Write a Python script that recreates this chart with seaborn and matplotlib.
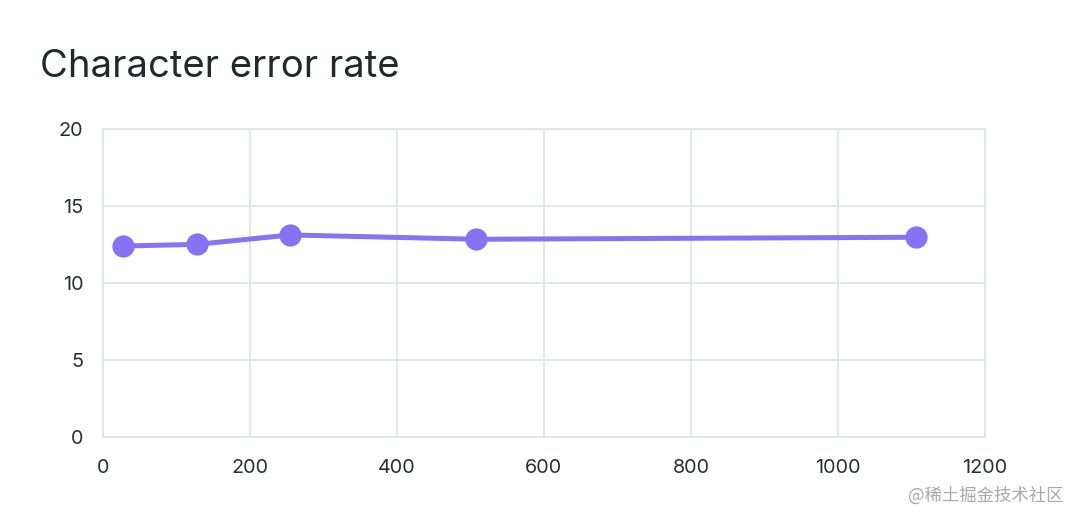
import pandas as pd
import seaborn as sns
import matplotlib
matplotlib.use("Agg")
import matplotlib.pyplot as plt


# values
num_languages = [27, 128, 255, 508, 1106]
cer = [12.4, 12.51, 13.12, 12.84, 12.97]

x_ticks = [0, 200, 400, 600, 800, 1000, 1200]
y_ticks = [0, 5, 10, 15, 20]

df = pd.DataFrame({"languages": num_languages, "cer": cer})

sns.set_theme(style="white")
plt.rcParams['font.family'] = ['Inter', 'Noto Sans CJK SC', 'DejaVu Sans']

fig = plt.figure(figsize=(10.8, 5.22), dpi=100)
ax = fig.add_axes([0.0954, 0.1628, 0.8166, 0.5901])

sns.lineplot(
    data=df,
    x="languages",
    y="cer",
    ax=ax,
    color="#8672f2",
    linewidth=3.6,
    marker="o",
    markersize=16,
    markeredgewidth=0,
)

ax.set_xlim(0, 1200)
ax.set_ylim(0, 20)
ax.set_xticks(x_ticks)
ax.set_yticks(y_ticks)
ax.set_xlabel("")
ax.set_ylabel("")

ax.grid(True, color="#e2e5e8", linewidth=1.3)
ax.set_axisbelow(True)
for side in ax.spines.values():
    side.set_color("#e2e5e8")
    side.set_linewidth(1.3)

ax.tick_params(axis="both", length=0, labelsize=14.3, colors="#2b2f33")
ax.tick_params(axis="y", pad=14)
ax.tick_params(axis="x", pad=16)

fig.text(0.037, 0.853, "Character error rate", fontsize=27.5, color="#1f2a2c",
         ha="left", va="baseline")

fig.text(0.985, 0.04, "@稀土掘金技术社区", fontsize=12.5, color="#a8a8a8",
         ha="right", va="baseline", family=['Noto Sans CJK SC', 'DejaVu Sans'])

fig.savefig("out.png", dpi=100)
